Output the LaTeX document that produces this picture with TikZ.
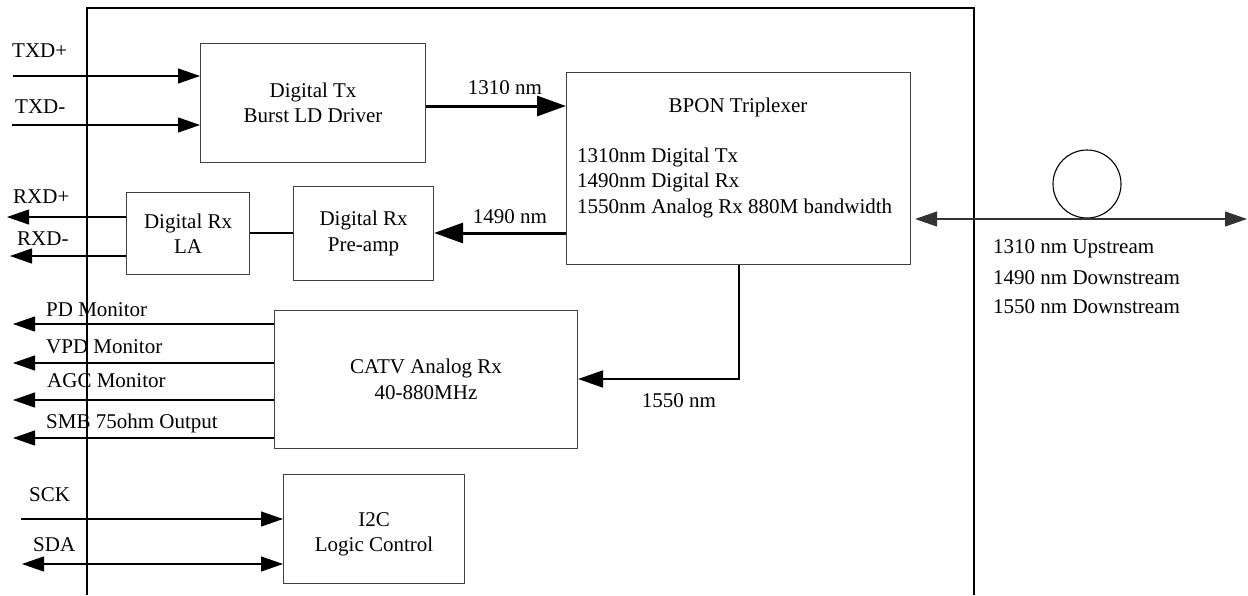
\documentclass[tikz,border=0pt]{standalone}
\usepackage{fontspec}
\setmainfont{Liberation Serif}
\usetikzlibrary{arrows.meta}
\begin{document}
\begin{tikzpicture}[x=1pt,y=-1pt,
  every node/.style={font=\fontsize{21}{25.5}\selectfont},
  box/.style={draw=black!75, line width=1.1pt, align=center, inner sep=0pt, anchor=north west},
  lbl/.style={inner sep=0pt, anchor=base west},
  lblc/.style={inner sep=0pt, anchor=base},
  sig/.style={line width=1.1pt, -{Triangle[length=22pt,width=15pt]}},
  sigboth/.style={line width=1.1pt, {Triangle[length=22pt,width=15pt]}-{Triangle[length=22pt,width=15pt]}},
  bus/.style={line width=3pt, -{Triangle[length=29pt,width=20pt]}},
]
\useasboundingbox (0,0) rectangle (1248,595);

% module outline (open at the bottom)
\draw[line width=1.1pt] (87,595) -- (87,8) -- (974,8) -- (974,595);

% functional blocks
\node[box, minimum width=225pt, minimum height=119pt] (tx) at (200,43) {Digital Tx\\Burst LD Driver};
\node[box, minimum width=344pt, minimum height=192pt] (bpon) at (566,72) {};
\node[box, minimum width=140pt, minimum height=94pt] (pre) at (293,186) {Digital Rx\\Pre-amp};
\node[box, minimum width=123pt, minimum height=82pt] (la) at (126,192) {Digital Rx\\LA};
\node[box, minimum width=303pt, minimum height=138pt] (catv) at (274,310) {CATV Analog Rx\\40-880MHz};
\node[box, minimum width=181pt, minimum height=109pt] (i2c) at (283,474) {\rule{0pt}{24pt}I2C\\Logic Control};

% triplexer contents
\node[lblc] (bpontitle) at (738,112) {BPON Triplexer};
\node[lbl] (bl1) at (577,162) {1310nm Digital Tx};
\node[lbl] (bl2) at (577,187) {1490nm Digital Rx};
\node[lbl] (bl3) at (577,213) {1550nm Analog Rx 880M bandwidth};

% fibre coil
\node[draw, circle, minimum size=68pt, inner sep=0pt, line width=1.1pt] (coil) at (1087,184) {};

% row heights and free ends
\coordinate (yTxp) at (0,76);
\coordinate (yTxn) at (0,125);
\coordinate (y1310) at (0,106);
\coordinate (y1490) at (0,233);
\coordinate (yLink) at (0,233);
\coordinate (yRxp) at (0,217);
\coordinate (yRxn) at (0,256);
\coordinate (y1550) at (0,379);
\coordinate (yPD) at (0,324);
\coordinate (yVPD) at (0,363);
\coordinate (yAGC) at (0,400);
\coordinate (ySMB) at (0,438);
\coordinate (yFib) at (0,219);

\coordinate (txpIn) at (13,76);
\coordinate (txnIn) at (12,125);
\coordinate (rxpOut) at (7,217);
\coordinate (rxnOut) at (10,256);
\coordinate (pdOut) at (13,324);
\coordinate (vpdOut) at (13,363);
\coordinate (agcOut) at (13,400);
\coordinate (smbOut) at (13,438);
\coordinate (sckIn) at (21,519);
\coordinate (sdaIn) at (22,564);
\coordinate (fibEnd) at (1247,219);

% connections
\draw[sig] (txpIn) -- (tx.west |- yTxp);
\draw[sig] (txnIn) -- (tx.west |- yTxn);
\draw[bus] (tx.east |- y1310) -- (bpon.west |- y1310);
\draw[bus] (bpon.west |- y1490) -- (pre.east |- y1490);
\draw[line width=1.1pt] (la.east |- yLink) -- (pre.west |- yLink);
\draw[sig] (la.west |- yRxp) -- (rxpOut);
\draw[sig] (la.west |- yRxn) -- (rxnOut);
\draw[line width=2pt, -{Triangle[length=25pt,width=17pt]}] (bpon.south) -- (bpon.south |- y1550) -- (catv.east |- y1550);
\draw[sig] (catv.west |- yPD) -- (pdOut);
\draw[sig] (catv.west |- yVPD) -- (vpdOut);
\draw[sig] (catv.west |- yAGC) -- (agcOut);
\draw[sig] (catv.west |- ySMB) -- (smbOut);
\draw[sig] (sckIn) -- (i2c.west |- sckIn);
\draw[sigboth] (sdaIn) -- (i2c.west |- sdaIn);
\draw[sigboth, draw=black!80, fill=black!80] ([xshift=4pt]bpon.east |- yFib) -- (fibEnd);

% signal labels
\node[lbl] (lTxp) at (12,57) {TXD+};
\node[lbl] (lTxn) at (15,113) {TXD-};
\node[lbl] (lRxp) at (13,203) {RXD+};
\node[lbl] (lRxn) at (17,245) {RXD-};
\node[lbl] (lPD) at (46,316) {PD Monitor};
\node[lbl] (lVPD) at (46,353) {VPD Monitor};
\node[lbl] (lAGC) at (47,387) {AGC Monitor};
\node[lbl] (lSMB) at (46,428) {SMB 75ohm Output};
\node[lbl] (lSCK) at (29,501) {SCK};
\node[lbl] (lSDA) at (33,551) {SDA};
\node[lblc] (l1310) at (505,94) {1310 nm};
\node[lblc] (l1490) at (510,223) {1490 nm};
\node[lblc] (l1550) at (679,407) {1550 nm};
\node[lbl] (lUp) at (993,253) {1310 nm Upstream};
\node[lbl] (lDn1) at (993,284) {1490 nm Downstream};
\node[lbl] (lDn2) at (993,313) {1550 nm Downstream};
\end{tikzpicture}
\end{document}
